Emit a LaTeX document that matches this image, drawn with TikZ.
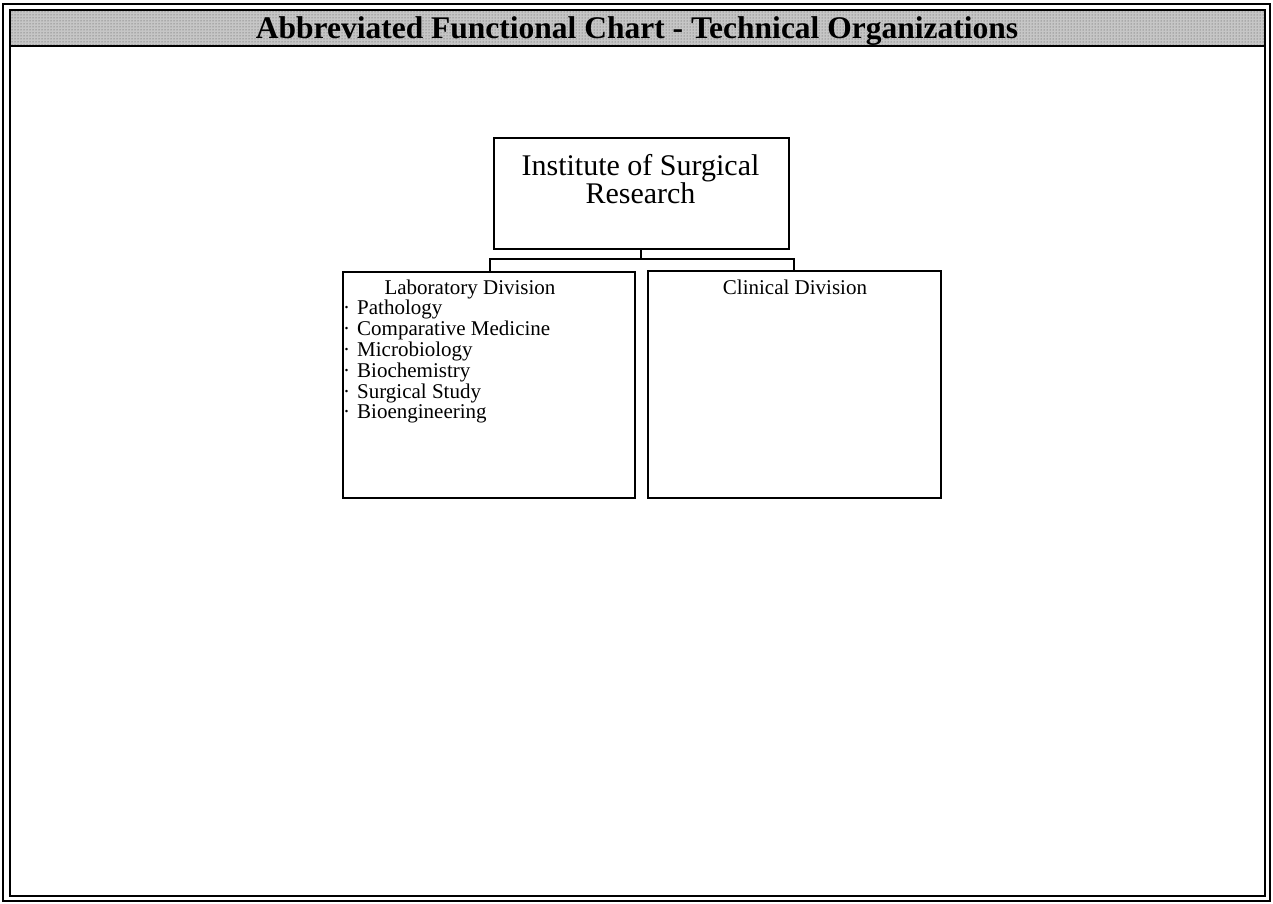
\documentclass[tikz,border=0pt]{standalone}
\usepackage{fontspec}
\setmainfont{Liberation Serif}
\usetikzlibrary{patterns}
\begin{document}
\begin{tikzpicture}[x=1pt,y=-1pt,
  box/.style={draw=black,line width=1.6pt,inner sep=0pt,anchor=north west},
  item/.style={anchor=base west,inner sep=0pt,font=\fontsize{21}{23}\selectfont},
  conn/.style={draw=black,line width=1.6pt}]
\useasboundingbox (0,0) rectangle (1273,903);
% outer frame
\draw[line width=1.2pt] (3,4) rectangle (1270,901);
\fill[gray!45] (10,10) rectangle (1265,46);
\fill[pattern=dots,pattern color=black!70] (10,10) rectangle (1265,46);
\draw[line width=2.2pt] (10,10) rectangle (1265,896);
\draw[line width=2.2pt] (10,46) -- (1265,46);
\node[inner sep=0pt,font=\bfseries\fontsize{31.5}{34}\selectfont] (title) at (637,31) {Abbreviated Functional Chart - Technical Organizations};
% boxes
\node[box,minimum width=295pt,minimum height=111pt] (isr) at (493,137) {};
\node[align=center,inner sep=0pt,font=\fontsize{30}{28}\selectfont,anchor=base] (isrt) at (640.5,203) {Institute of Surgical\\Research};
\node[box,minimum width=292pt,minimum height=226pt] (lab) at (342,271) {};
\node[box,minimum width=293pt,minimum height=227pt] (cli) at (647,270) {};
\node[anchor=base,inner sep=0pt,font=\fontsize{21}{23}\selectfont] (labt) at (470,294) {Laboratory Division};
\node[anchor=base,inner sep=0pt,font=\fontsize{21}{23}\selectfont] (clit) at (795,294) {Clinical Division};
\foreach \t [count=\i] in {Pathology,Comparative Medicine,Microbiology,Biochemistry,Surgical Study,Bioengineering}{
  \node[item] (dot\i) at (343,294+\i*20.8) {·};
  \node[item] (it\i) at (357,294+\i*20.8) {\t};
}
% connectors
\coordinate (jn) at (641,259);
\coordinate (jl) at (490,259);
\coordinate (jr) at (794,259);
\draw[conn,line width=2pt] (jn |- isr.south) -- (jn);
\draw[conn] (jl |- lab.north) -- (jl) -- (jr) -- (jr |- cli.north);
\end{tikzpicture}
\end{document}
